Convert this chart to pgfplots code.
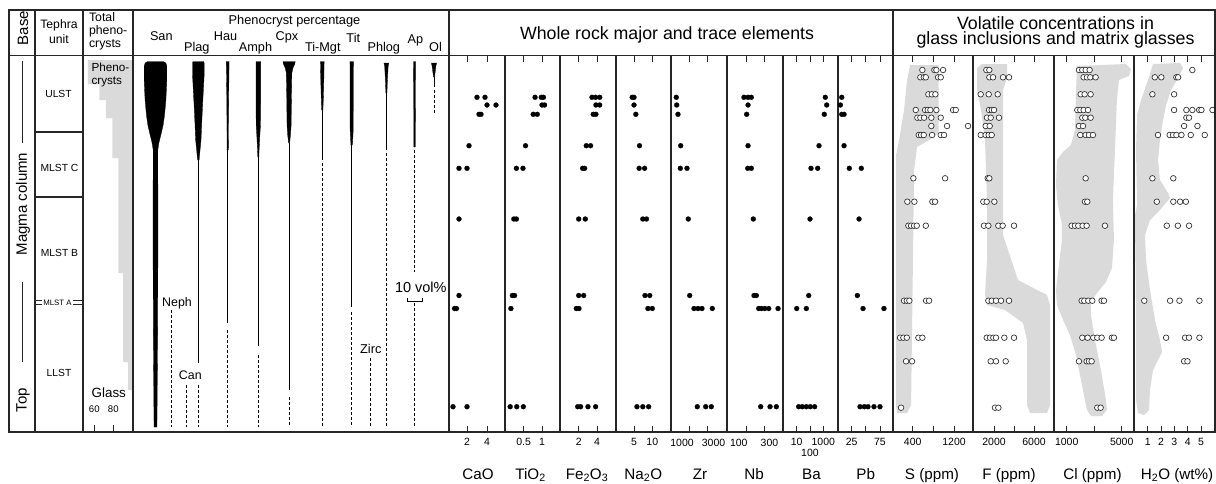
\documentclass[border=0pt]{standalone}
\usepackage{pgfplots}
\usepackage{pgfplotstable}
\pgfplotsset{compat=1.18}
\usepackage{fontspec}
\setmainfont{Liberation Sans}

\newcommand\fs[2]{\fontsize{#1}{#2}\selectfont}
\definecolor{ln}{gray}{0.15}
\definecolor{shade}{gray}{0.855}

% ---------- phenocryst kite outlines: depth y, width w (vol%), side s ----------
\pgfplotstableread{
y w s
61.5 10.0 1
63 13.5 1
66 14.8 1
80 14.8 1
100 13.6 1
115 11.8 1
125 10.0 1
133 7.6 1
143 4.4 1
150 3.0 1
240 3.2 1
330 2.8 1
427 1.9 1
427 1.9 -1
330 2.8 -1
240 3.2 -1
150 3.0 -1
143 4.4 -1
133 7.6 -1
125 10.0 -1
115 11.8 -1
100 13.6 -1
80 14.8 -1
66 14.8 -1
63 13.5 -1
61.5 10.0 -1
}\kSan
\pgfplotstableread{
y w s
61.5 7.0 1
63 7.6 1
75 7.6 1
100 5.9 1
120 4.6 1
140 3.5 1
150 2.2 1
160 1.0 1
160 1.0 -1
150 2.2 -1
140 3.5 -1
120 4.6 -1
100 5.9 -1
75 7.6 -1
63 7.6 -1
61.5 7.0 -1
}\kPlag
\pgfplotstableread{
y w s
61.5 1.8 1
100 1.2 1
150 0.8 1
150 0.8 -1
100 1.2 -1
61.5 1.8 -1
}\kHau
\pgfplotstableread{
y w s
61.5 3.0 1
100 3.0 1
125 2.8 1
135 2.0 1
150 1.0 1
157 0.7 1
157 0.7 -1
150 1.0 -1
135 2.0 -1
125 2.8 -1
100 3.0 -1
61.5 3.0 -1
}\kAmph
\pgfplotstableread{
y w s
61.5 8.0 1
64 7.4 1
68 5.0 1
73 3.6 1
100 3.0 1
125 2.7 1
135 1.8 1
143 0.7 1
143 0.7 -1
135 1.8 -1
125 2.7 -1
100 3.0 -1
73 3.6 -1
68 5.0 -1
64 7.4 -1
61.5 8.0 -1
}\kCpx
\pgfplotstableread{
y w s
61.5 2.4 1
80 2.0 1
100 1.3 1
110 0.8 1
110 0.8 -1
100 1.3 -1
80 2.0 -1
61.5 2.4 -1
}\kMgt
\pgfplotstableread{
y w s
61.5 2.2 1
130 2.0 1
145 1.0 1
145 1.0 -1
130 2.0 -1
61.5 2.2 -1
}\kTit
\pgfplotstableread{
y w s
63 3.2 1
66 2.3 1
80 1.3 1
93 0.7 1
93 0.7 -1
80 1.3 -1
66 2.3 -1
63 3.2 -1
}\kPhlog
\pgfplotstableread{
y w s
61.5 1.3 1
147 0.9 1
147 0.9 -1
61.5 1.3 -1
}\kAp
\pgfplotstableread{
y w s
63 3.4 1
66 2.5 1
77 0.7 1
77 0.7 -1
66 2.5 -1
63 3.4 -1
}\kOl

% kite: outline about a centre line, filled black
\newcommand\kite[2]{%
  \addplot[fill=black, draw=black, line width=0.3pt]
    table[x expr={#1+0.5*\thisrow{s}*\thisrow{w}}, y=y] {#2} -- cycle;
}

\pgfplotsset{
  panel/.style={scale only axis, anchor=north west, height=376.5pt,
    ymin=55.5, ymax=432, y dir=reverse, ytick=\empty,
    axis line style={draw=ln, line width=1.1pt},
    tick align=inside, xtick pos=both, major tick length=6pt,
    tick style={draw=ln, line width=0.9pt},
    xminorticks=false, scaled x ticks=false,
    xticklabel style={font=\fs{10.5}{12}, yshift=-3pt}},
  dot/.style={only marks, mark=*, mark size=2.5pt,
    mark options={fill=black, draw=black, line width=0.2pt}},
  ring/.style={only marks, mark=*, mark size=2.8pt,
    mark options={fill=white, draw=black!80, line width=0.7pt}},
  solidln/.style={black, line width=1pt},
  dashln/.style={black, line width=0.9pt, dash pattern=on 3pt off 2pt},
}

\begin{document}
\begin{tikzpicture}
\path[use as bounding box] (0pt,0pt) rectangle (1216pt,-484pt);

% ---------- total phenocrysts (glass vol%) ----------
\begin{axis}[panel, at={(83pt,-55.5pt)}, width=50pt, xmin=48.1, xmax=101,
  xtick={60,80}, xticklabels={,}, xtick pos=lower, major tick length=7pt]
\addplot[fill=shade, draw=none] coordinates {
 (101,60) (53.2,60) (53.2,84) (65.3,84) (65.3,100) (72.3,100) (72.3,118)
 (79.2,118) (79.2,158) (85.5,158) (85.5,273) (90.5,273) (90.5,362)
 (95.8,362) (95.8,390) (101,390)} -- cycle;
\end{axis}

% ---------- phenocryst percentage (x in vol%) ----------
\begin{axis}[panel, at={(133pt,-55.5pt)}, width=316pt, xmin=0, xmax=206.5, xtick=\empty]
\kite{14.7}{\kSan}
\kite{42.7}{\kPlag}
\addplot[solidln] coordinates {(42.7,160) (42.7,363)};
\addplot[dashln] coordinates {(42.7,385) (42.7,427)};
\kite{61.9}{\kHau}
\addplot[black, line width=0.8pt] coordinates {(61.9,150) (61.9,323)};
\addplot[dashln] coordinates {(61.9,330) (61.9,427)};
\kite{81.9}{\kAmph}
\addplot[black, line width=0.8pt] coordinates {(81.9,157) (81.9,346)};
\addplot[dashln] coordinates {(81.9,355) (81.9,427)};
\kite{102}{\kCpx}
\addplot[black, line width=0.8pt] coordinates {(102,143) (102,390)};
\addplot[dashln] coordinates {(102,397) (102,427)};
\kite{123.7}{\kMgt}
\addplot[black, line width=0.9pt] coordinates {(123.7,110) (123.7,160)};
\addplot[dashln] coordinates {(123.7,163) (123.7,427)};
\kite{142.9}{\kTit}
\addplot[black, line width=0.9pt] coordinates {(142.9,145) (142.9,307)};
\addplot[dashln] coordinates {(142.9,312) (142.9,427)};
\kite{165.6}{\kPhlog}
\addplot[black, line width=0.8pt] coordinates {(165.6,93) (165.6,150)};
\addplot[dashln] coordinates {(165.6,153) (165.6,427)};
\kite{184}{\kAp}
\addplot[dashln] coordinates {(184,150) (184,272)};
\addplot[dashln] coordinates {(184,303) (184,427)};
\kite{196.7}{\kOl}
\addplot[black, line width=0.8pt] coordinates {(196.7,77) (196.7,87)};
\addplot[dashln] coordinates {(196.7,90) (196.7,113)};
% nepheline, cancrinite, zircon
\addplot[dashln] coordinates {(24.8,310) (24.8,427)};
\addplot[dashln] coordinates {(35.1,385) (35.1,427)};
\addplot[dashln] coordinates {(154.9,358) (154.9,427)};
% 10 vol% scale bar
\addplot[black, line width=1pt] coordinates {(179.4,298.3) (179.4,301.5) (189.4,301.5) (189.4,298.3)};
\end{axis}

% ---------- whole rock ----------
\begin{axis}[panel, at={(449pt,-55.5pt)}, width=56pt, xmin=0.2, xmax=5.8,
  xtick={2,4}, xticklabels={2,4}]
\addplot[dot] coordinates {(3.0,97.3) (3.8,97.3) (4.0,105) (4.9,105) (3.2,114.3) (3.4,114.3)
 (2.2,145.7) (1.2,168.3) (2.0,168.3) (1.2,219) (1.2,295.5) (0.75,308.5) (0.95,308.5)
 (0.6,406.7) (2.0,406.7)};
\end{axis}
\begin{axis}[panel, at={(505pt,-55.5pt)}, width=55pt, xmin=-0.011, xmax=1.492,
  xtick={0.5,1}, xticklabels={0.5,1}]
\addplot[dot] coordinates {(0.81,97.3) (0.98,97.3) (1.04,97.3) (1.0,105) (1.07,105)
 (0.76,114.3) (0.87,114.3) (0.55,145.7) (0.30,168.3) (0.48,168.3) (0.23,219) (0.30,219)
 (0.19,295.5) (0.25,295.5) (0.15,308.5) (0.13,406.7) (0.31,406.7) (0.49,406.7)};
\end{axis}
\begin{axis}[panel, at={(560pt,-55.5pt)}, width=56pt, xmin=-0.044, xmax=6.077,
  xtick={2,4}, xticklabels={2,4}]
\addplot[dot] coordinates {(3.45,97.3) (3.85,97.3) (4.3,97.3) (3.88,105) (4.29,105)
 (3.59,114.3) (3.88,114.3) (2.83,145.7) (3.3,145.7) (2.43,168.3) (2.65,168.3)
 (2.0,219) (2.72,219) (2.0,295.5) (2.54,295.5) (1.74,308.5) (2.03,308.5)
 (1.89,406.7) (2.21,406.7) (3.01,406.7) (3.85,406.7)};
\end{axis}
\begin{axis}[panel, at={(616pt,-55.5pt)}, width=55pt, xmin=0.082, xmax=15.11,
  xtick={5,10}, xticklabels={5,10}]
\addplot[dot] coordinates {(4.5,97.3) (5.0,97.3) (5.0,105) (5.5,114.3) (6.5,145.7)
 (6.4,168.3) (7.9,168.3) (7.4,219) (8.4,219) (8.0,295.5) (9.3,295.5) (8.8,308.5)
 (10.0,308.5) (5.8,406.7) (7.4,406.7) (9.0,406.7)};
\end{axis}
\begin{axis}[panel, at={(671pt,-55.5pt)}, width=56pt, xmode=log, xmin=336, xmax=9480,
  xtick={1000,3000}, xticklabels={,}]
\addplot[dot] coordinates {(460,97.3) (472,105) (509,114.3) (599,145.7) (585,168.3)
 (872,168.3) (942,219) (1024,295.5) (1324,308.5) (1680,308.5) (2131,308.5) (3944,308.5)
 (1611,406.7) (2659,406.7) (3718,406.7)};
\end{axis}
\begin{axis}[panel, at={(727pt,-55.5pt)}, width=56pt, xmode=log, xmin=31.3, xmax=957,
  xtick={100,300}, xticklabels={,}]
\addplot[dot] coordinates {(88,97.3) (113,97.3) (138,97.3) (113,105) (104,114.3)
 (113,145.7) (111,168.3) (138,168.3) (156,219) (163,295.5) (188,295.5) (217,308.5)
 (256,308.5) (314,308.5) (400,308.5) (706,308.5) (245,406.7) (434,406.7) (637,406.7)};
\end{axis}
\begin{axis}[panel, at={(783pt,-55.5pt)}, width=55pt, xmode=log, xmin=0.933, xmax=12735,
  xtick={10,100,1000}, xticklabels={10,,1000}]
\addplot[dot] coordinates {(1413,97.3) (1803,105) (1189,114.3) (475,145.7) (119,168.3)
 (379,168.3) (100,219) (80,295.5) (10,308.5) (53,308.5) (14,406.7) (26,406.7)
 (53,406.7) (105,406.7) (224,406.7)};
\end{axis}
\begin{axis}[panel, at={(838pt,-55.5pt)}, width=55pt, xmin=0.8, xmax=98,
  xtick={25,50,75}, xticklabels={25,,75}]
\addplot[dot] coordinates {(7.4,97.3) (5,105) (7.4,114.3) (11.5,114.3) (11.5,145.7)
 (20.8,168.3) (42,168.3) (38,219) (35,295.5) (45,308.5) (82,308.5) (39.7,406.7)
 (47.3,406.7) (53.8,406.7) (64.4,406.7) (75,406.7)};
\end{axis}

% ---------- volatiles ----------
\begin{axis}[panel, at={(893pt,-55.5pt)}, width=80pt, xmin=18, xmax=1568,
  xtick={400,800,1200}, xticklabels={400,,1200}]
\addplot[fill=shade, draw=none] coordinates {(348,65) (900,65) (900,133) (717,140)
 (484,147) (426,170) (407,250) (387,330) (368,405) (291,413) (97,413) (77,405)
 (77,155) (136,140) (232,110) (291,80)} -- cycle;
\addplot[ring] coordinates {
 (587,70) (820,70) (858,70) (988,70)
 (548,77.3) (614,77.3) (653,77.3) (891,77.3) (943,77.3)
 (703,94.3) (769,94.3) (839,94.3)
 (459,110) (639,110) (691,110) (742,110) (858,110) (1182,110) (1234,110)
 (490,117.7) (548,117.7) (620,117.7) (761,117.7) (943,117.7)
 (761,126) (1065,126) (1472,126)
 (517,135) (562,135) (614,135) (775,135) (943,135) (1007,135)
 (413,178.3) (1027,178.3)
 (296,201.7) (432,201.7) (781,201.7) (833,201.7)
 (316,225.7) (368,225.7) (426,225.7) (478,225.7) (653,225.7)
 (232,300.7) (285,300.7) (335,300.7) (659,300.7) (717,300.7)
 (155,337.7) (219,337.7) (285,337.7) (510,337.7) (587,337.7)
 (271,361.3) (387,361.3)
 (174,407.7)};
\end{axis}
\begin{axis}[panel, at={(973pt,-55.5pt)}, width=81pt, xmin=-100, xmax=8000,
  xtick={2000,4000,6000}, xticklabels={2000,,6000}]
\addplot[fill=shade, draw=none] coordinates {(300,68) (800,64) (3300,64) (3300,78)
 (2900,90) (2900,150) (2900,235) (3900,265) (4400,280) (6300,290) (7300,295)
 (7600,305) (7600,405) (7300,413) (5600,413) (5300,405) (5300,340) (4900,323)
 (3100,310) (1300,305) (1100,295) (1300,260) (1300,200) (1100,140) (700,110) (300,90)} -- cycle;
\addplot[ring] coordinates {
 (1233,70) (1533,70)
 (1533,77.3) (1900,77.3) (2900,77.3) (3500,77.3)
 (667,94.3) (1467,94.3) (2367,94.3)
 (1500,110) (1767,110) (2000,110)
 (1300,117.7) (1667,117.7) (2500,117.7)
 (1167,126) (1567,126)
 (667,135) (1167,135) (1467,135) (1767,135)
 (1367,178.3) (1533,178.3)
 (933,201.7) (1267,201.7) (2033,201.7)
 (1000,225.7) (1433,225.7) (2433,225.7) (2867,225.7) (4000,225.7)
 (1433,300.7) (1767,300.7) (2200,300.7) (2700,300.7) (3500,300.7)
 (1267,337.7) (1600,337.7) (1933,337.7) (2200,337.7) (3033,337.7) (4000,337.7)
 (1667,361.3) (2200,361.3) (3167,361.3)
 (2100,407.7) (2433,407.7)};
\end{axis}
\begin{axis}[panel, at={(1054pt,-55.5pt)}, width=80pt, xmin=76, xmax=5895,
  xtick={1000,3000,5000}, xticklabels={1000,,5000}]
\addplot[fill=shade, draw=none] coordinates {(1745,66) (5307,64) (5671,69) (5525,76)
 (4798,80) (4653,100) (4507,150) (4362,200) (4435,240) (4289,268) (3853,282)
 (3199,293) (2763,302) (2763,315) (3053,340) (3490,370) (3853,400) (3926,410)
 (3563,416) (2763,416) (2472,410) (2036,380) (1672,355) (1236,335) (800,322)
 (291,305) (218,290) (436,265) (654,240) (654,225) (364,205) (218,185) (291,160)
 (727,152) (1309,145) (1599,130) (1672,95)} -- cycle;
\addplot[ring] coordinates {
 (1890,70) (2133,70) (2376,70) (2667,70)
 (2230,77.3) (2472,77.3) (2715,77.3) (3103,77.3)
 (2012,94.3) (2303,94.3) (2739,94.3)
 (1770,110) (1987,110) (2230,110) (2545,110)
 (2133,117.7) (2351,117.7) (2739,117.7)
 (1890,126) (2181,126)
 (1987,135) (2376,135) (2617,135) (2908,135)
 (2376,178.3)
 (2327,201.7) (2497,201.7)
 (1357,225.7) (1600,225.7) (1842,225.7) (2157,225.7) (2448,225.7) (3782,225.7)
 (2085,300.7) (2278,300.7) (2569,300.7) (2860,300.7) (3540,300.7) (3710,300.7)
 (2133,337.7) (2521,337.7) (2933,337.7) (3224,337.7) (3540,337.7) (4290,337.7) (4435,337.7)
 (1890,361.3) (2448,361.3) (2617,361.3) (2812,361.3)
 (3224,407.7) (3467,407.7)};
\end{axis}
\begin{axis}[panel, at={(1134pt,-55.5pt)}, width=81pt, xmin=-0.03, xmax=6.05,
  xtick={1,2,3,4,5}, xticklabels={1,2,3,4,5}]
\addplot[fill=shade, draw=none] coordinates {(1.40,64) (3.43,63) (3.65,68) (3.28,78)
 (2.75,90) (2.38,105) (2.15,120) (1.92,140) (1.77,160) (1.92,180) (2.53,193)
 (2.68,198) (1.92,210) (1.17,220) (0.80,235) (0.87,260) (1.17,290) (1.55,320)
 (1.92,340) (2.08,352) (1.77,360) (1.40,370) (1.17,390) (1.10,410) (0.72,415)
 (0.27,413) (0.12,400) (0.12,300) (0.05,230) (0.05,215) (0.20,205) (0.12,150)
 (0.20,115) (0.50,100) (1.02,80)} -- cycle;
\addplot[ring] coordinates {
 (4.35,70)
 (1.53,77.3) (2.02,77.3) (3.15,77.3) (3.28,77.3)
 (1.35,94.3) (2.98,94.3)
 (2.98,110) (3.9,110) (4.35,110) (4.86,110) (5.03,110) (5.86,110)
 (3.9,117.7) (4.1,117.7)
 (3.73,126) (4.73,126)
 (1.77,135) (2.65,135) (2.9,135) (3.15,135) (3.53,135) (4.23,135) (5.28,135)
 (1.35,178.3) (2.92,178.3)
 (1.68,201.7) (2.92,201.7) (3.43,201.7) (3.86,201.7)
 (2.43,225.7) (3.26,225.7) (4.1,225.7)
 (0.74,300.7) (2.68,300.7) (3.38,300.7) (4.88,300.7)
 (2.38,337.7) (3.8,337.7) (4.1,337.7) (4.88,337.7)
 (3.73,361.3) (3.98,361.3)};
\end{axis}

% ---------- frame, column rules and labels ----------
\begin{scope}[x=1pt, y=-1pt]
\draw[ln, line width=1.4pt] (9,10) rectangle (1215,432);
\draw[ln, line width=1.4pt] (9,55.5) -- (1215,55.5);
\foreach \xx in {35,83,133} \draw[ln, line width=1.1pt] (\xx,10) -- (\xx,432);
\foreach \xx in {449,893} \draw[ln, line width=1.4pt] (\xx,10) -- (\xx,432);
% tephra unit boundaries
\draw[ln, line width=1.8pt] (35,132) -- (83,132);
\draw[ln, line width=1.2pt] (35,197) -- (83,197);
\draw[ln, line width=0.8pt] (36,300.7) -- (42,300.7) (36,304.3) -- (42,304.3)
  (72.5,300.7) -- (82,300.7) (72.5,304.3) -- (82,304.3);
% magma column
\node[font=\fs{15}{16}, rotate=90] at (23,28) {Base};
\node[font=\fs{15}{16}, rotate=90] at (23,204) {Magma column};
\node[font=\fs{15}{16}, rotate=90] at (23,400) {Top};
\draw[ln, line width=1pt] (22.5,61) -- (22.5,143) (22.5,282) -- (22.5,362);
% header texts
\node[font=\fs{12.2}{15}, align=center] at (59,32) {Tephra\\unit};
\node[font=\fs{12.3}{13.3}, align=left, anchor=west] at (85.5,31.5) {Total\\pheno-\\crysts};
\node[font=\fs{12.8}{14}, anchor=base] at (294.5,25) {Phenocryst percentage};
\node[font=\fs{12.7}{14}, anchor=base] at (161.3,40.7) {San};
\node[font=\fs{12.7}{14}, anchor=base] at (196.8,52) {Plag};
\node[font=\fs{12.7}{14}, anchor=base] at (225.5,40.7) {Hau};
\node[font=\fs{12.7}{14}, anchor=base] at (255.5,51.7) {Amph};
\node[font=\fs{12.7}{14}, anchor=base] at (287,40.7) {Cpx};
\node[font=\fs{12.7}{14}, anchor=base] at (322.8,51.7) {Ti-Mgt};
\node[font=\fs{12.7}{14}, anchor=base] at (353.3,42.3) {Tit};
\node[font=\fs{12.7}{14}, anchor=base] at (383.8,51.7) {Phlog};
\node[font=\fs{12.7}{14}, anchor=base] at (415.5,43.3) {Ap};
\node[font=\fs{12.7}{14}, anchor=base] at (435.5,51.7) {Ol};
\node[font=\fs{17.75}{18}, anchor=base] at (667,39.3) {Whole rock major and trace elements};
\node[font=\fs{17.8}{18}, anchor=base] at (1055.5,29.3) {Volatile concentrations in};
\node[font=\fs{17.8}{18}, anchor=base] at (1055.5,45) {glass inclusions and matrix glasses};
% tephra unit names
\node[font=\fs{10.3}{11}, anchor=base] at (58.5,97.7) {ULST};
\node[font=\fs{10.3}{11}, anchor=base] at (59.5,171.7) {MLST C};
\node[font=\fs{10.3}{11}, anchor=base] at (59.5,256) {MLST B};
\node[font=\fs{7.8}{8}, anchor=base] at (57.5,305) {MLST A};
\node[font=\fs{10.3}{11}, anchor=base] at (59,376) {LLST};
% total phenocryst column
\node[font=\fs{11.7}{13}, align=left, anchor=north west] at (88,59.5) {Pheno-\\crysts};
\node[font=\fs{13.4}{14}, anchor=base] at (108.8,397.3) {Glass};
\node[font=\fs{9.6}{10}] at (94.3,408.7) {60};
\node[font=\fs{9.6}{10}] at (113.3,408.7) {80};
% phenocryst annotations
\node[font=\fs{12.4}{13}, anchor=base] at (177,306.5) {Neph};
\node[font=\fs{12.4}{13}, anchor=base] at (190.3,379.3) {Can};
\node[font=\fs{12.8}{13}, anchor=base] at (370.8,353.3) {Zirc};
\node[font=\fs{14.5}{15}, anchor=base] at (420.8,292.7) {10 vol\%};
% tick labels set apart where they would collide
\node[font=\fs{10.5}{12}] at (682,442.5) {1000};
\node[font=\fs{10.5}{12}] at (713.5,442.5) {3000};
\node[font=\fs{10.5}{12}] at (738.8,442.5) {100};
\node[font=\fs{10.5}{12}] at (769.5,442.5) {300};
\node[font=\fs{10.5}{12}] at (810,453) {100};
% quantity names
\node[font=\fs{15.2}{16}, anchor=base] at (478,479) {CaO};
\node[font=\fs{15.2}{16}, anchor=base] at (530.5,479) {TiO\textsubscript{2}};
\node[font=\fs{15.2}{16}, anchor=base] at (587,479) {Fe\textsubscript{2}O\textsubscript{3}};
\node[font=\fs{15.2}{16}, anchor=base] at (643.3,479) {Na\textsubscript{2}O};
\node[font=\fs{15.2}{16}, anchor=base] at (700,479) {Zr};
\node[font=\fs{15.2}{16}, anchor=base] at (754,479) {Nb};
\node[font=\fs{15.2}{16}, anchor=base] at (811.5,479) {Ba};
\node[font=\fs{15.2}{16}, anchor=base] at (865.7,479) {Pb};
\node[font=\fs{15.2}{16}, anchor=base] at (932,479) {S (ppm)};
\node[font=\fs{15.2}{16}, anchor=base] at (1009,479) {F (ppm)};
\node[font=\fs{15.2}{16}, anchor=base] at (1092.5,479) {Cl (ppm)};
\node[font=\fs{15.2}{16}, anchor=base] at (1177,479) {H\textsubscript{2}O (wt\%)};
\end{scope}
\end{tikzpicture}
\end{document}
